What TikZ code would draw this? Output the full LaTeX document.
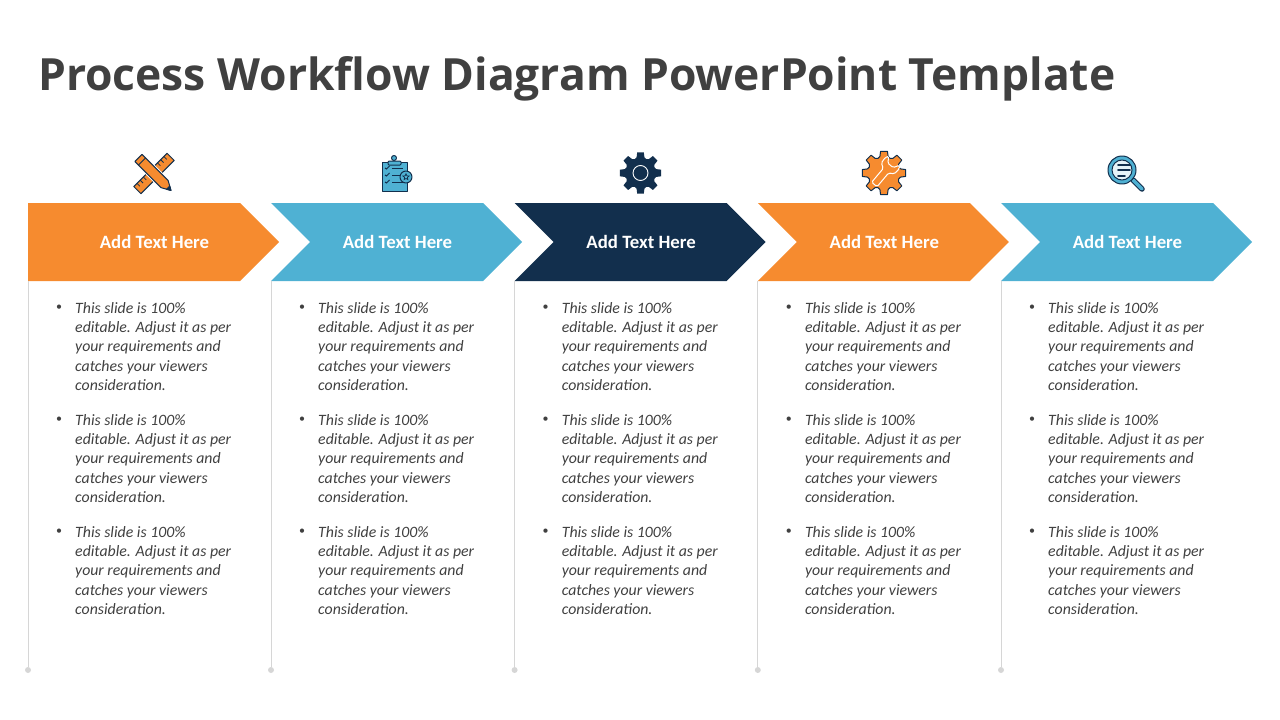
\documentclass[tikz,border=0pt]{standalone}
\usepackage{fontspec}
\setmainfont{Carlito}
\newfontfamily\titlefont{Open Sans}
\usetikzlibrary{shapes.geometric}

\definecolor{ttlgray}{HTML}{404040}
\definecolor{bodygray}{HTML}{404040}
\definecolor{rulegray}{HTML}{D6D6D6}
\definecolor{orangeC}{HTML}{F68B2F}
\definecolor{blueC}{HTML}{4FB1D3}
\definecolor{navyC}{HTML}{122F4D}

\tikzset{
  headlabel/.style={font=\fontsize{18.8}{20}\selectfont\bfseries, text=white},
  para/.style={font=\fontsize{15.8}{19.3}\selectfont\itshape, text=bodygray, align=left, inner sep=0pt, anchor=north west},
  bul/.style={font=\fontsize{12}{14}\selectfont, text=bodygray, inner sep=0pt},
  rulebar/.style={draw=rulegray, line width=0.9pt},
  enddot/.style={circle, fill=rulegray, inner sep=0pt, minimum size=6pt},
  icon/.style={draw=navyC, line width=1pt, line join=round},
}

% eight teeth, outer radius #1
\newcommand{\gearshape}[1]{
  (-14:#1*0.77) \foreach \a in {0,45,...,315}{
    -- (\a-14:#1*0.77) -- (\a-9:#1) -- (\a+9:#1) -- (\a+14:#1*0.77) -- (\a+22.5:#1*0.72)
  } -- cycle
}

\begin{document}
\begin{tikzpicture}[x=1pt, y=-1pt]
\useasboundingbox (0,0) rectangle (1280,720);

\node[font=\titlefont\fontsize{44.4}{50}\selectfont\bfseries, text=ttlgray, anchor=west, inner sep=0pt] (title) at (38,78.5) {Process Workflow Diagram PowerPoint Template};

% Columns
\foreach \x/\col/\notch [count=\i] in {28/orangeC/0, 271/blueC/39, 514.6/navyC/39, 757.8/orangeC/39, 1001/blueC/39}{
    \fill[\col] (\x,203) -- (\x+212,203) -- (\x+251,242) -- (\x+212,281) -- (\x,281) -- (\x+\notch,242) -- cycle;
    \node[headlabel] (head\i) at (\x+126.5,242) {Add Text Here};

    \coordinate (top\i) at (\x,281);
    \node[enddot] (end\i) at (\x,670) {};
    \draw[rulebar] (top\i) -- (end\i);

    % Bullets
    \foreach \y [count=\k] in {302, 414, 526}{
        \node[bul] (bul\i-\k) at (\x+31,\y+6) {•};
        \node[para] (para\i-\k) at (\x+47,\y) {This slide is 100\%\\editable. Adjust it as per\\your requirements and\\catches your viewers\\consideration.};
    }
}

% Ruler and pencil
\begin{scope}[shift={(154,173.5)}]
  \begin{scope}[rotate=45]
    \draw[icon, fill=orangeC] (-23.5,-5) rectangle (23.5,5);
    \foreach \t in {-19,-14.5,-10,10,14.5,19}{
        \draw[navyC, line width=0.8pt] (\t,-5) -- (\t,-1);
    }
  \end{scope}
  \begin{scope}[rotate=-45]
    \draw[white, line width=3pt] (-22,-5) rectangle (15,5);
    \draw[icon, fill=orangeC] (-22,-5) -- (15,-5) -- (24,0) -- (15,5) -- (-22,5) -- cycle;
    \draw[navyC, line width=0.8pt] (-17,-5) -- (-17,5);
    \draw[icon, fill=navyC] (20,-2.2) -- (24,0) -- (20,2.2) -- cycle;
  \end{scope}
\end{scope}

% Clipboard
\draw[icon, fill=blueC] (382,162) rectangle (407,191);
\draw[icon, fill=blueC] (394,158) circle[radius=2.5];
\draw[icon, fill=blueC, rounded corners=1pt] (388,161) rectangle (401,165);
\foreach \y in {169,176,183}{
    \draw[navyC, line width=1pt] (385,\y-1) -- (386.5,\y) -- (389.5,\y-3);
    \draw[navyC, line width=1pt] (392,\y-1) -- (403,\y-1);
}
\draw[icon, fill=blueC] (406,177) circle[radius=6];
\node[star, star points=5, star point ratio=2.2, draw=navyC, line width=0.7pt, inner sep=0pt, minimum size=6.5pt] (badge) at (406,177) {};

% Navy gear
\begin{scope}[shift={(640.5,173)}]
  \fill[navyC] \gearshape{21};
  \draw[white, line width=0.9pt] (0,0) circle[radius=7.5];
\end{scope}

% Orange gear with wrench
\begin{scope}[shift={(884,173)}]
  \draw[icon, fill=orangeC] \gearshape{22};
  \begin{scope}[rotate=50]
    \draw[white, fill=orangeC, line width=1pt, rounded corners=1.5pt] (-15,3.5) -- (-15,-3.5) -- (3,-3.5) -- (6,-8.5) -- (13,-9) -- (16,-7) -- (10,-3.5) -- (10,3.5) -- (16,7) -- (13,9) -- (6,8.5) -- (3,3.5) -- cycle;
  \end{scope}
\end{scope}

% Magnifier
\draw[navyC, line width=5.5pt, line cap=round] (1133,180) -- (1142,189);
\draw[blueC, line width=3.5pt, line cap=round] (1133,180) -- (1142,189);
\draw[icon, fill=blueC] (1122,170) circle[radius=14];
\draw[icon, fill=white!85!blueC] (1122,170) circle[radius=10];
\foreach \y/\w in {165/1130, 170/1130, 176/1125}{
    \draw[navyC, line width=1.6pt, line cap=round] (1118,\y) -- (\w,\y);
}

\end{tikzpicture}
\end{document}
